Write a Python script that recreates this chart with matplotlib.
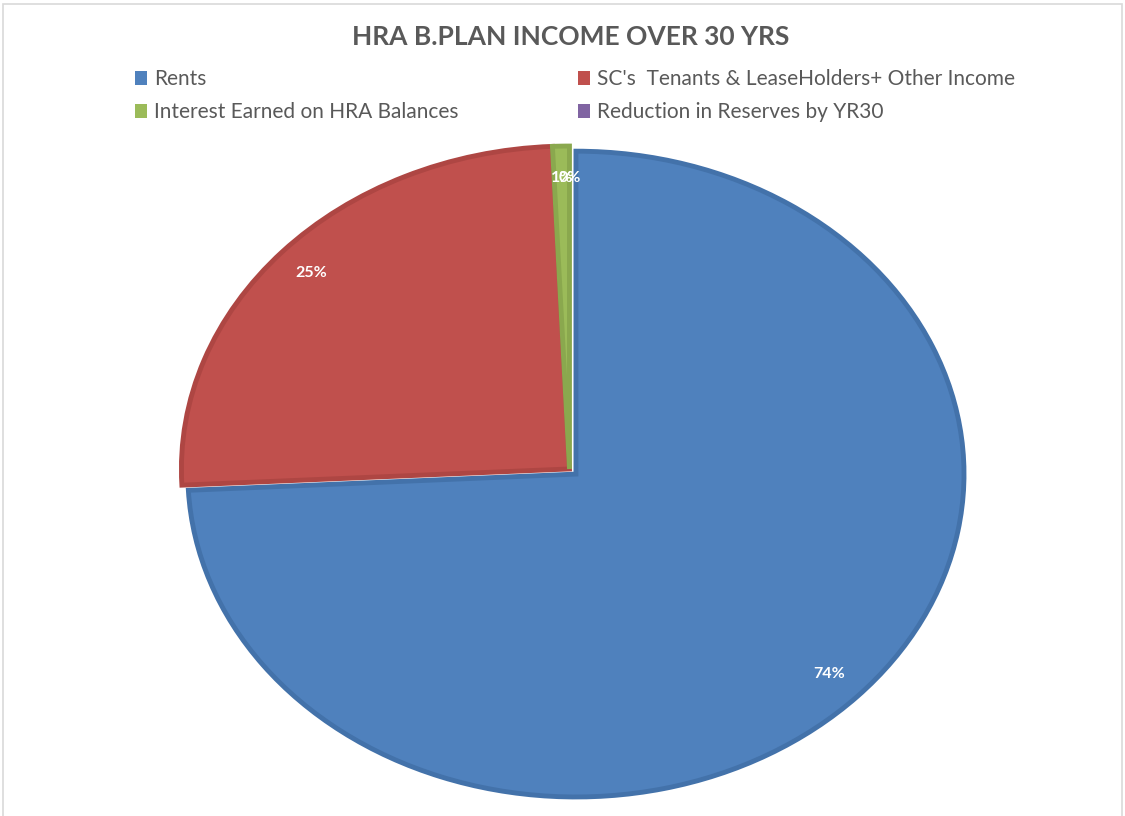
import matplotlib.pyplot as plt
from matplotlib.patches import Rectangle

# Chart data
categories = ["Rents", "SC's  Tenants & LeaseHolders+ Other Income",
              "Interest Earned on HRA Balances", "Reduction in Reserves by YR30"]
values = [74.2, 25.1, 0.7, 0.0]
colors = ["#4F81BD", "#C0504D", "#9BBB59", "#8064A2"]
edges = ["#4372AA", "#AE4643", "#8AA84E", "none"]
explode = [0.023, 0, 0, 0]

plt.rcParams['font.family'] = ['Lato', 'DejaVu Sans']

fig = plt.figure(figsize=(11.25, 8.16), dpi=100)
ax = fig.add_axes([0.144, 0.0098, 0.7244, 0.831])

wedges, texts, autotexts = ax.pie(values, colors=colors, explode=explode,
                                  startangle=90, counterclock=False,
                                  autopct='%.0f%%', pctdistance=0.9,
                                  wedgeprops=dict(linewidth=3.5))
for w, ec in zip(wedges, edges):
    w.set_edgecolor(ec)
for t in autotexts:
    t.set_color("white")
    t.set_fontsize(11.5)
    t.set_fontweight("bold")

# stretch the pie into an ellipse like the original
ax.set_aspect('auto')
ax.set_xlim(-1.05, 1.05)
ax.set_ylim(-1.05, 1.05)

fig.text(0.507, 0.955, "HRA B.PLAN INCOME OVER 30 YRS", ha='center', va='center',
         fontsize=19, fontweight='bold', color="#595959")

handles = [Rectangle((0, 0), 1, 1, facecolor=c) for c in colors]
order = [0, 2, 1, 3]
fig.legend([handles[i] for i in order], [categories[i] for i in order],
           ncol=2, loc='upper left', bbox_to_anchor=(0.103, 0.938),
           frameon=False, fontsize=15, labelcolor="#595959",
           handlelength=0.6, handleheight=0.6, handletextpad=0.35,
           columnspacing=5.7, labelspacing=0.62)

# light chart border
fig.patches.append(Rectangle((3 / 1125, -0.01), 1119 / 1125, 1.01 - 4 / 816,
                             transform=fig.transFigure, fill=False,
                             edgecolor="#D9D9D9", linewidth=1.2))

plt.savefig("out.png", dpi=100)
